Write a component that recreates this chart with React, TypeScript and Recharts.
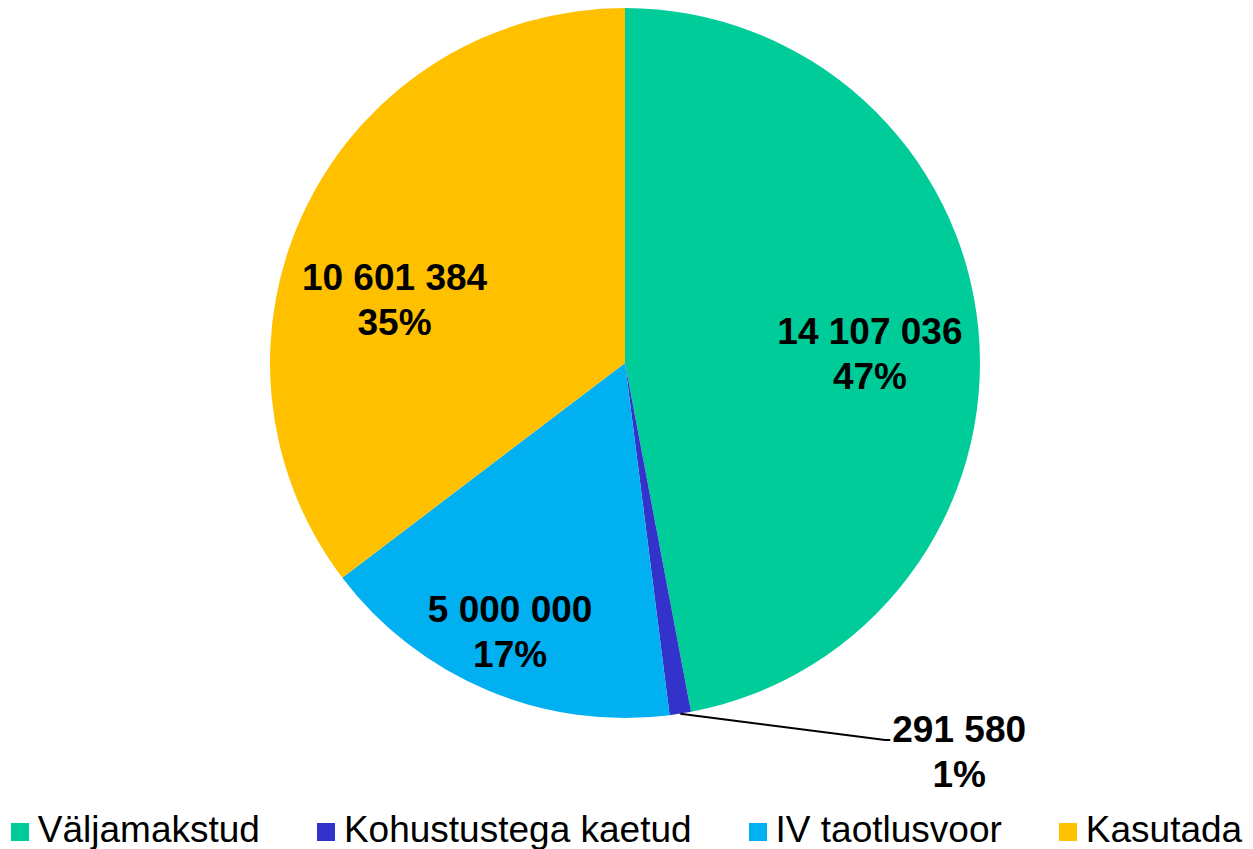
import { Cell, Legend, Pie, PieChart } from "recharts";

const categories = ["Väljamakstud", "Kohustustega kaetud", "IV taotlusvoor", "Kasutada"];
const amounts = [14107036, 291580, 5000000, 10601384];
const amountLabels = ["14 107 036", "291 580", "5 000 000", "10 601 384"];
const percentLabels = ["47%", "1%", "17%", "35%"];

const colors = ["#00CC99", "#3333CC", "#00B0F0", "#FFC000"];
// per-slice label nudges (px) from the default mid-angle position
const labelNudge = [
  [1, 4],
  [296, 137],
  [-20, 33],
  [-11, 36],
];

const data = categories.map((name, i) => ({ name, value: amounts[i] }));

const RAD = Math.PI / 180;

const renderLabel = (props: any) => {
  const { cx, cy, midAngle, outerRadius, index } = props;
  const cos = Math.cos(-midAngle * RAD);
  const sin = Math.sin(-midAngle * RAD);
  const r = 245;
  const x = cx + r * cos + labelNudge[index][0];
  const y = cy + r * sin + labelNudge[index][1];
  const style = {
    fontFamily: "'Liberation Sans', Arial, sans-serif",
    fontWeight: 700,
    fontSize: 37,
    fill: "#000",
  };
  return (
    <g key={`lbl-${index}`}>
      {index === 1 && (
        <path
          d={`M${cx + outerRadius * cos},${cy + outerRadius * sin} L${x - 74},${y - 2} L${x - 69},${y - 2}`}
          stroke="#000"
          strokeWidth={2}
          fill="none"
        />
      )}
      <text x={x} y={y} textAnchor="middle" style={style}>
        {amountLabels[index]}
      </text>
      <text x={x} y={y + 45} textAnchor="middle" style={style}>
        {percentLabels[index]}
      </text>
    </g>
  );
};

const renderLegend = () => (
  <div
    style={{
      display: "flex",
      justifyContent: "center",
      gap: 57,
      fontFamily: "'Liberation Sans', Arial, sans-serif",
      fontSize: 37,
      lineHeight: "37px",
      color: "#000",
      whiteSpace: "nowrap",
    }}
  >
    {categories.map((name, i) => (
      <div key={name} style={{ display: "flex", alignItems: "center" }}>
        <span
          style={{
            display: "inline-block",
            width: 18,
            height: 18,
            background: colors[i],
            marginRight: 9,
            marginTop: 4,
          }}
        />
        <span>{name}</span>
      </div>
    ))}
  </div>
);

export default function App() {
  return (
    <div style={{ position: "absolute", left: 0, top: 0, width: 1253, height: 849, background: "#fff" }}>
      <PieChart width={1253} height={849} margin={{ top: 0, right: 0, bottom: 0, left: 0 }}>
        <Pie
          data={data}
          dataKey="value"
          nameKey="name"
          cx={625}
          cy={363}
          outerRadius={355}
          startAngle={90}
          endAngle={-270}
          stroke="none"
          label={renderLabel}
          labelLine={false}
          isAnimationActive={false}
        >
          {data.map((d, i) => (
            <Cell key={d.name} fill={colors[i]} />
          ))}
        </Pie>
        <Legend
          content={renderLegend}
          wrapperStyle={{ position: "absolute", left: 0, top: 811, width: 1253 }}
        />
      </PieChart>
    </div>
  );
}
